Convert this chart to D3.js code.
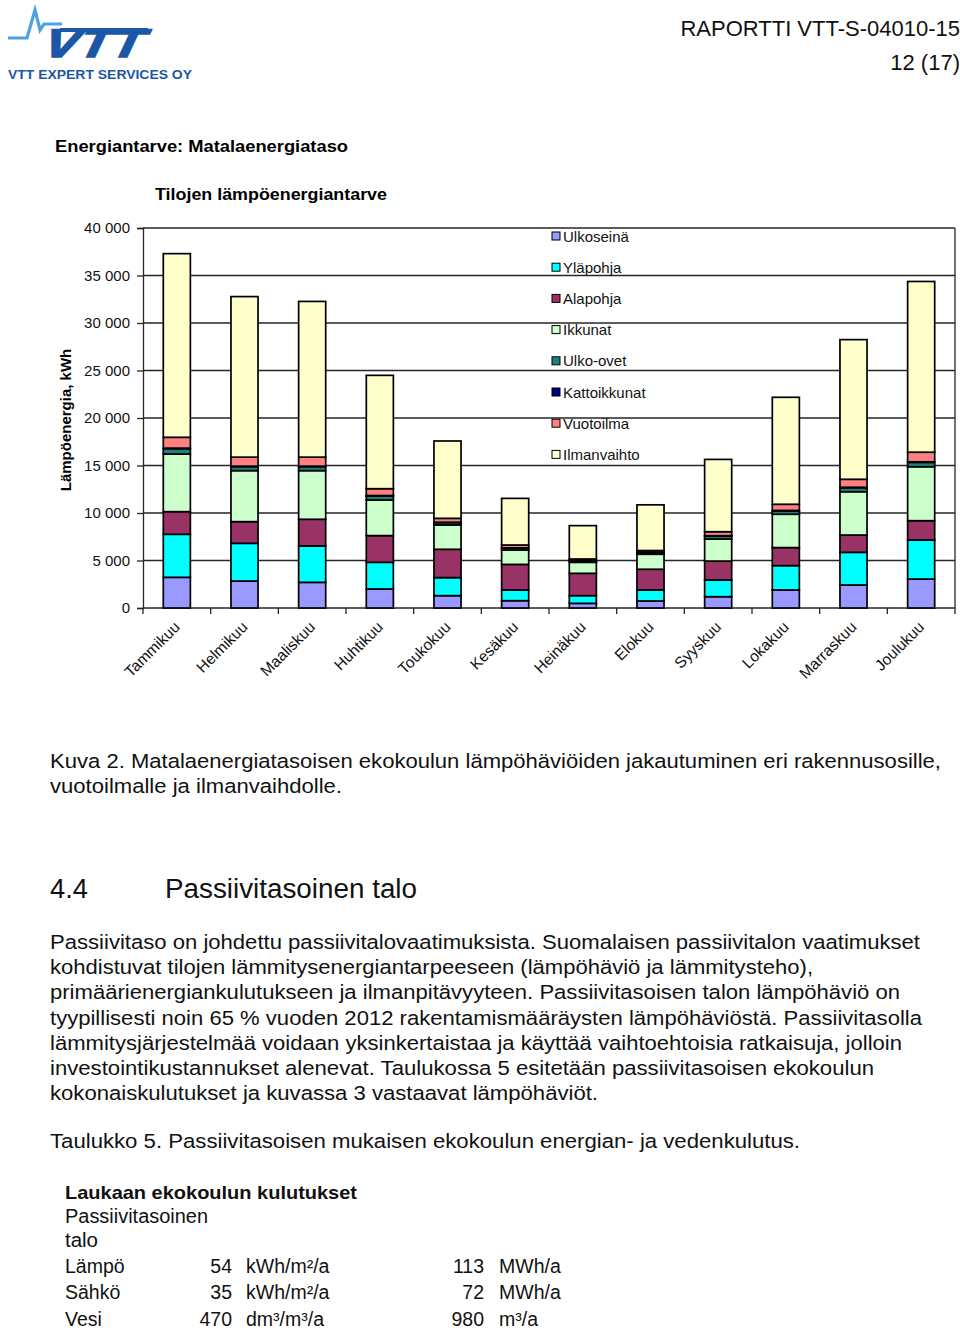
<!DOCTYPE html>
<html><head><meta charset="utf-8">
<script src="https://cdn.jsdelivr.net/npm/d3@7"></script>
<style>
html,body{margin:0;padding:0;background:#fff;}
svg{display:block;font-family:"Liberation Sans",Arial,sans-serif;}
</style></head>
<body>
<svg id="page" width="960" height="1330"></svg>
<script>
const months = ["Tammikuu","Helmikuu","Maaliskuu","Huhtikuu","Toukokuu","Kesäkuu","Heinäkuu","Elokuu","Syyskuu","Lokakuu","Marraskuu","Joulukuu"];
const seriesNames = ["Ulkoseinä","Yläpohja","Alapohja","Ikkunat","Ulko-ovet","Kattoikkunat","Vuotoilma","Ilmanvaihto"];
const seriesColors = ["#9999FF","#00FFFF","#993366","#CCFFCC","#1F7F7F","#000080","#FF8080","#FFFFCC"];
const ulkoseina    = [3230, 2840, 2700, 2000, 1300,  770,  490,  740, 1190, 1900, 2420, 3050];
const ylapohja     = [4530, 3970, 3830, 2810, 1900, 1120,  810, 1160, 1750, 2560, 3440, 4100];
const alapohja     = [2380, 2280, 2810, 2810, 2980, 2700, 2350, 2180, 2000, 1900, 1820, 2040];
const ikkunat      = [6070, 5370, 5120, 3750, 2560, 1510, 1160, 1580, 2320, 3510, 4560, 5680];
const ulkoovet     = [ 560,  420,  420,  420,  250,  200,  150,  170,  300,  350,  420,  460];
const kattoikkunat = [  60,   50,   50,   50,   40,   30,   30,   30,   50,   50,   50,   60];
const vuotoilma    = [1140,  950,  950,  720,  410,  300,  170,  190,  420,  650,  840, 1010];
const ilmanvaihto  = [19330,16900,16390,11930, 8140, 4910, 3510, 4810, 7610,11260,14700,17970];
const yTicks = [0,5000,10000,15000,20000,25000,30000,35000,40000];

const allSeries = [ulkoseina, ylapohja, alapohja, ikkunat, ulkoovet, kattoikkunat, vuotoilma, ilmanvaihto];
const rows = months.map((m,i)=>{ const r={month:m}; seriesNames.forEach((s,k)=>r[s]=allSeries[k][i]); return r; });

const svg = d3.select("#page");
const fmt = v => d3.format(",")(v).replace(/,/g," ");

// ---- header / logo ----
const logo = svg.append("g");
logo.append("path").attr("d","M8,38 L27,38 L35,10 L40,30 L44,24 L62,24")
  .attr("fill","none").attr("stroke","#4BA3E0").attr("stroke-width",3.2).attr("stroke-linejoin","miter");
logo.append("text").attr("x",46).attr("y",57).attr("font-size",40).attr("font-weight","bold")
  .attr("font-style","italic").attr("fill","#1B57A6").attr("textLength",100).attr("lengthAdjust","spacingAndGlyphs")
  .attr("stroke","#1B57A6").attr("stroke-width",1.5)
  .attr("transform","translate(8,0) skewX(-12)").text("VTT");
logo.append("rect").attr("x",60).attr("y",28).attr("width",88).attr("height",4).attr("fill","#1B57A6");
logo.append("text").attr("x",8).attr("y",79).attr("font-size",13.5).attr("font-weight","bold").attr("fill","#1B57A6")
  .attr("textLength",184).attr("lengthAdjust","spacingAndGlyphs").text("VTT EXPERT SERVICES OY");

svg.append("text").attr("x",960).attr("y",36).attr("text-anchor","end").attr("font-size",22).attr("fill","#111")
  .text("RAPORTTI VTT-S-04010-15");
svg.append("text").attr("x",960).attr("y",70).attr("text-anchor","end").attr("font-size",22).attr("fill","#111")
  .text("12 (17)");

svg.append("text").attr("x",55).attr("y",152).attr("font-size",17).attr("font-weight","bold")
  .attr("textLength",293).attr("lengthAdjust","spacingAndGlyphs").text("Energiantarve: Matalaenergiataso");
svg.append("text").attr("x",155).attr("y",200).attr("font-size",17).attr("font-weight","bold")
  .attr("textLength",232).attr("lengthAdjust","spacingAndGlyphs").text("Tilojen lämpöenergiantarve");

// ---- chart ----
const x0=143, x1=955, yTop=228, yBot=608;
const x = d3.scaleBand().domain(months).range([x0,x1]).paddingInner(0.6).paddingOuter(0.3);
const y = d3.scaleLinear().domain([0,40000]).range([yBot,yTop]);
const axisCol = "#262626";

const chart = svg.append("g");
// gridlines
chart.append("g").selectAll("line").data(yTicks.filter(t=>t>0)).join("line")
  .attr("x1",x0).attr("x2",x1).attr("y1",d=>y(d)).attr("y2",d=>y(d))
  .attr("stroke",axisCol).attr("stroke-width",1.3);
// right border
chart.append("line").attr("x1",x1).attr("x2",x1).attr("y1",yTop).attr("y2",yBot).attr("stroke",axisCol).attr("stroke-width",1.3);

// y axis
const yAxis = chart.append("g").attr("transform",`translate(${x0},0)`)
  .call(d3.axisLeft(y).tickValues(yTicks).tickSize(6).tickPadding(7).tickFormat(fmt));
yAxis.select(".domain").attr("stroke",axisCol).attr("stroke-width",1.3);
yAxis.selectAll(".tick line").attr("stroke",axisCol).attr("stroke-width",1.3);
yAxis.selectAll("text").attr("font-size",15).attr("fill","#111").attr("font-family","Liberation Sans, Arial, sans-serif");

// x axis
const bounds = d3.range(13).map(i=>x0 + i*(x1-x0)/12);
chart.append("line").attr("x1",x0).attr("x2",x1).attr("y1",yBot).attr("y2",yBot).attr("stroke",axisCol).attr("stroke-width",1.3);
chart.append("g").selectAll("line").data(bounds).join("line")
  .attr("x1",d=>d).attr("x2",d=>d).attr("y1",yBot).attr("y2",yBot+6).attr("stroke",axisCol).attr("stroke-width",1.3);
chart.append("g").selectAll("text").data(months).join("text")
  .attr("transform",d=>`translate(${x(d)+x.bandwidth()/2+4},${yBot+20}) rotate(-45)`)
  .attr("text-anchor","end").attr("font-size",15.5).attr("fill","#111").text(d=>d);

// y label
svg.append("text").attr("transform","translate(71,420) rotate(-90)").attr("text-anchor","middle")
  .attr("font-size",15).attr("font-weight","bold").text("Lämpöenergia, kWh");

// stacked bars
const stack = d3.stack().keys(seriesNames)(rows);
chart.append("g").selectAll("g").data(stack).join("g")
  .attr("fill",(d,i)=>seriesColors[i])
  .selectAll("rect").data(d=>d).join("rect")
  .attr("x",d=>x(d.data.month)).attr("width",x.bandwidth())
  .attr("y",d=>y(d[1])).attr("height",d=>y(d[0])-y(d[1]))
  .attr("stroke","#000").attr("stroke-width",1.7);

// legend
const leg = svg.append("g").attr("transform","translate(552,236)");
seriesNames.forEach((s,i)=>{
  const g = leg.append("g").attr("transform",`translate(0,${i*31.2})`);
  g.append("rect").attr("x",0).attr("y",-4).attr("width",8).attr("height",8)
    .attr("fill",seriesColors[i]).attr("stroke","#000").attr("stroke-width",1);
  g.append("text").attr("x",11).attr("y",5.5).attr("font-size",15).attr("fill","#111").text(s);
});

// ---- text below chart ----
function line(txt, xx, yy, size, len, opts={}){
  const t = svg.append("text").attr("x",xx).attr("y",yy).attr("font-size",size).attr("fill","#111").text(txt);
  if(len) t.attr("textLength",len).attr("lengthAdjust","spacingAndGlyphs");
  if(opts.bold) t.attr("font-weight","bold");
  if(opts.anchor) t.attr("text-anchor",opts.anchor);
  return t;
}
line("Kuva 2. Matalaenergiatasoisen ekokoulun lämpöhäviöiden jakautuminen eri rakennusosille,",50,768,20.5,891);
line("vuotoilmalle ja ilmanvaihdolle.",50,793,20.5,292);
line("4.4",50,898,27,38);
line("Passiivitasoinen talo",165,898,27,252);
const body = [
 ["Passiivitaso on johdettu passiivitalovaatimuksista. Suomalaisen passiivitalon vaatimukset",870],
 ["kohdistuvat tilojen lämmitysenergiantarpeeseen (lämpöhäviö ja lämmitysteho),",763],
 ["primäärienergiankulutukseen ja ilmanpitävyyteen. Passiivitasoisen talon lämpöhäviö on",850],
 ["tyypillisesti noin 65 % vuoden 2012 rakentamismääräysten lämpöhäviöstä. Passiivitasolla",872],
 ["lämmitysjärjestelmää voidaan yksinkertaistaa ja käyttää vaihtoehtoisia ratkaisuja, jolloin",852],
 ["investointikustannukset alenevat. Taulukossa 5 esitetään passiivitasoisen ekokoulun",824],
 ["kokonaiskulutukset ja kuvassa 3 vastaavat lämpöhäviöt.",548]
];
body.forEach((b,i)=>line(b[0],50,949+i*25.2,20.5,b[1]));
line("Taulukko 5. Passiivitasoisen mukaisen ekokoulun energian- ja vedenkulutus.",50,1148,20.5,750);

line("Laukaan ekokoulun kulutukset",65,1199,18.5,292,{bold:true});
line("Passiivitasoinen",65,1223,19.5,143);
line("talo",65,1247,19.5,33);
const tblLabels = ["Lämpö","Sähkö","Vesi"];
const tblVal1 = ["54","35","470"];
const tblUnit1 = ["kWh/m²/a","kWh/m²/a","dm³/m³/a"];
const tblVal2 = ["113","72","980"];
const tblUnit2 = ["MWh/a","MWh/a","m³/a"];
tblLabels.forEach((l,i)=>{
  const yy = 1273 + i*26.3;
  line(l,65,yy,19.5);
  line(tblVal1[i],232,yy,19.5,null,{anchor:"end"});
  line(tblUnit1[i],246,yy,19.5);
  line(tblVal2[i],484,yy,19.5,null,{anchor:"end"});
  line(tblUnit2[i],499,yy,19.5);
});
</script>
</body></html>
